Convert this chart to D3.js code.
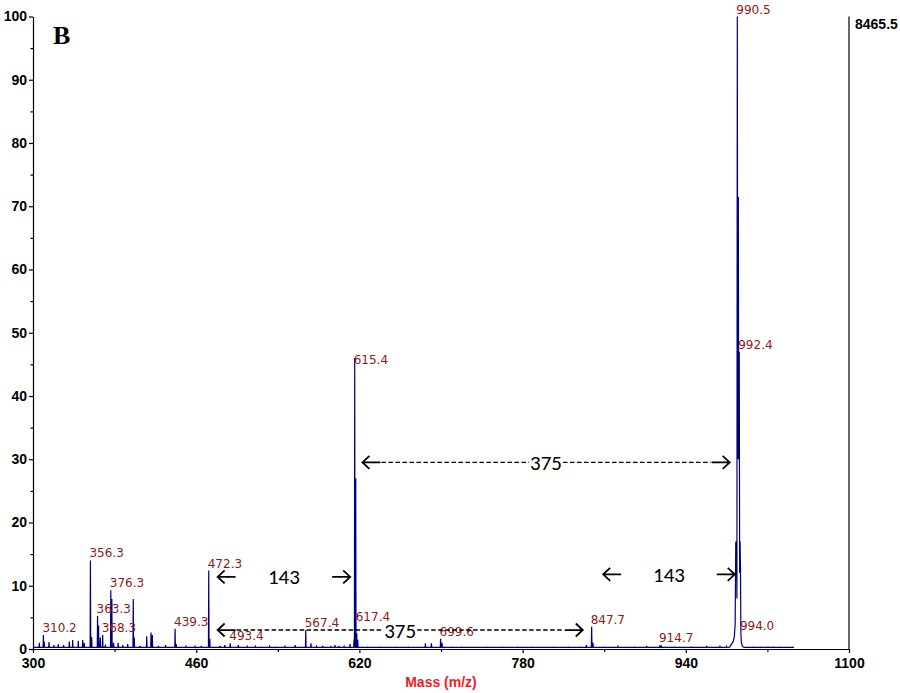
<!DOCTYPE html>
<html>
<head>
<meta charset="utf-8">
<script src="https://cdn.jsdelivr.net/npm/d3@7"></script>
<style>
  body { margin: 0; background: #fff; }
</style>
</head>
<body>
<svg id="chart" width="900" height="693"></svg>
<script>
// isolated peaks of the spectrum (m/z, relative intensity %)
var peakMz = [306.2, 310.2, 311.0, 315.7, 320.5, 324.8, 330.0, 335.6, 338.9, 344.4, 348.7, 350.2,
  356.3, 357.5, 363.3, 364.3, 366.0, 368.3, 371.0, 376.3, 377.3, 379.0, 383.5, 388.0, 392.8,
  398.3, 399.3, 405.0, 411.5, 415.7, 417.0, 423.0, 430.0, 439.3, 440.4, 450.0, 458.8, 465.0,
  472.3, 473.3, 483.3, 488.0, 493.4, 501.3, 510.0, 518.0, 524.2, 532.0, 539.0, 547.0, 557.0,
  567.4, 572.5, 578.0, 584.0, 592.0, 596.0, 600.0, 605.0, 610.8, 614.7, 615.4, 616.4, 617.4,
  618.4, 628.0, 640.0, 655.0, 668.0, 684.7, 690.6, 699.6, 701.0, 710.0, 720.0, 745.0, 760.0,
  775.0, 790.0, 810.0, 825.0, 836.0, 842.5, 847.7, 849.0, 860.0, 873.5, 890.0, 901.6, 914.7,
  916.0, 929.4, 945.0, 960.5, 973.5, 980.0, 1000.0, 1006.0, 1013.0, 1020.6, 1026.0, 1032.0, 1045.0];
var peakIntensity = [1.0, 2.2, 1.2, 1.1, 0.6, 0.8, 0.6, 1.2, 1.4, 1.3, 1.4, 1.0,
  14.0, 1.9, 5.2, 3.7, 1.8, 2.2, 0.7, 9.3, 7.9, 1.0, 1.0, 0.6, 0.8,
  7.9, 1.8, 0.5, 2.0, 2.6, 2.2, 0.5, 0.6, 3.2, 0.8, 0.4, 0.4, 0.5,
  12.4, 1.6, 0.5, 0.6, 0.9, 0.6, 0.4, 0.4, 0.3, 0.4, 0.3, 0.4, 0.6,
  3.0, 0.9, 0.4, 0.5, 0.5, 0.6, 0.5, 0.4, 0.8, 1.5, 46.0, 27.0, 2.5,
  1.5, 0.3, 0.3, 0.3, 0.3, 0.9, 0.9, 1.6, 1.0, 0.3, 0.3, 0.3, 0.3,
  0.3, 0.3, 0.3, 0.3, 0.3, 0.6, 3.5, 1.0, 0.3, 0.4, 0.3, 0.5, 0.6,
  0.4, 0.3, 0.3, 0.5, 0.4, 0.4, 0.3, 0.3, 0.3, 0.3, 0.3, 0.3, 0.3];

// molecular ion cluster, drawn as a profile
var clusterMz = [983.0, 985.0, 986.5, 987.6, 988.4, 989.0, 989.4, 989.8, 990.1, 990.5, 990.9,
  991.5, 991.9, 992.4, 992.8, 993.2, 993.6, 994.0, 994.5, 995.5, 997.0];
var clusterIntensity = [0.3, 0.8, 1.2, 2.0, 4.0, 17.0, 13.0, 17.0, 8.0, 100.0, 30.0,
  71.5, 30.0, 47.0, 12.0, 17.0, 13.0, 2.5, 1.0, 0.4, 0.25];

var labelMz = [310.2, 356.3, 363.3, 368.3, 376.3, 439.3, 472.3, 493.4, 567.4, 615.4, 617.4,
  699.6, 847.7, 914.7, 990.5, 992.4, 994.0];
var labelText = ["310.2", "356.3", "363.3", "368.3", "376.3", "439.3", "472.3", "493.4", "567.4",
  "615.4", "617.4", "699.6", "847.7", "914.7", "990.5", "992.4", "994.0"];

var xTicks = [300, 460, 620, 780, 940, 1100];
var xMinorTicks = [380, 540, 700, 860, 1020];
var yTicks = [0, 10, 20, 30, 40, 50, 60, 70, 80, 90, 100];
var yMinorTicks = [5, 15, 25, 35, 45, 55, 65, 75, 85, 95];

// mass differences drawn as arrows
var spanFrom = [623, 481, 481, 859];
var spanTo = [983, 611, 839, 988];
var spanLevel = [29.5, 11.4, 3.0, 11.8];
var spanText = ["375", "143", "375", "143"];
var spanDashed = [true, false, true, false];

var BASE_LEVEL = 0.25; //noise floor of the trace
var BASE_END = 1046;
var labelNudge = { "615.4": 9, "617.4": -9 }; //pixels, where the original label sits off the peak top

var svg = d3.select("#chart");
svg.append("rect").attr("width", 900).attr("height", 693).attr("fill", "#fff");

var x = d3.scaleLinear().domain([300, 1100]).range([33, 849]);
var y = d3.scaleLinear().domain([0, 100]).range([649, 16.5]);

// axes
svg.append("g").attr("transform", "translate(33,0)")
  .call(d3.axisLeft(y).tickValues(yTicks).tickSize(4).tickSizeOuter(0).tickPadding(2));
svg.append("g").attr("transform", "translate(33,0)")
  .call(d3.axisLeft(y).tickValues(yMinorTicks).tickSize(2.5).tickFormat(""))
  .select(".domain").remove();

svg.append("g").attr("transform", "translate(0,649)")
  .call(d3.axisBottom(x).tickValues(xTicks).tickFormat(d3.format("d"))
    .tickSize(4).tickSizeOuter(0).tickPadding(5));
svg.append("g").attr("transform", "translate(0,649)")
  .call(d3.axisBottom(x).tickValues(xMinorTicks).tickSize(3).tickFormat(""))
  .select(".domain").remove();

svg.selectAll(".tick text")
  .attr("font-family", "Arial, 'Liberation Sans', sans-serif")
  .attr("font-size", 14)
  .attr("font-weight", "bold")
  .attr("fill", "#000");
svg.selectAll(".domain, .tick line").attr("stroke", "#000").attr("stroke-width", 1.2);

// right hand frame line
svg.append("line")
  .attr("x1", x(1100)).attr("x2", x(1100))
  .attr("y1", y(100)).attr("y2", y(0))
  .attr("stroke", "#000").attr("stroke-width", 1.2);

svg.append("text")
  .attr("x", 855).attr("y", 29)
  .attr("font-family", "Arial, 'Liberation Sans', sans-serif")
  .attr("font-size", 14).attr("font-weight", "bold")
  .text("8465.5");

svg.append("text")
  .attr("x", 441).attr("y", 687)
  .attr("text-anchor", "middle")
  .attr("font-family", "Arial, 'Liberation Sans', sans-serif")
  .attr("font-size", 14).attr("font-weight", "bold")
  .attr("fill", "#f21b1b")
  .text("Mass (m/z)");

svg.append("text")
  .attr("x", 53).attr("y", 44)
  .attr("font-family", "'Times New Roman', 'Liberation Serif', serif")
  .attr("font-size", 26).attr("font-weight", "bold")
  .text("B");

// build the trace: sticks for the isolated peaks, profile for the cluster
var points = [[300, BASE_LEVEL], [BASE_END, BASE_LEVEL]];
peakMz.forEach(function(mz, i) {
  points.push([mz - 0.3, BASE_LEVEL], [mz, peakIntensity[i]], [mz + 0.3, BASE_LEVEL]);
});
clusterMz.forEach(function(mz, i) { points.push([mz, clusterIntensity[i]]); });
points.sort(function(a, b) { return a[0] - b[0]; });

svg.append("path")
  .datum(points)
  .attr("fill", "none")
  .attr("stroke", "#00007a")
  .attr("stroke-width", 1.2)
  .attr("d", d3.line().x(function(d) { return x(d[0]); }).y(function(d) { return y(d[1]); }));

function heightAt(mz) {
  var i = peakMz.indexOf(mz);
  if (i >= 0) return peakIntensity[i];
  var best = 0, dist = 1e9;
  clusterMz.forEach(function(m, j) {
    if (Math.abs(m - mz) < dist) { dist = Math.abs(m - mz); best = clusterIntensity[j]; }
  });
  return best;
}

svg.selectAll(".peakLabel")
  .data(labelMz)
  .enter()
  .append("text")
  .attr("class", "peakLabel")
  .attr("x", function(d) { return x(d) - 1; })
  .attr("y", function(d) { return y(heightAt(d)) - 3 + (labelNudge[d] || 0); })
  .attr("font-family", "Tahoma, 'DejaVu Sans', sans-serif")
  .attr("font-size", 12)
  .attr("fill", "#8b1a1a")
  .text(function(d, i) { return labelText[i]; });

// arrows with mass differences
var ARROW_LEN = 18;
function arrow(g, tipX, yPos, dir) {
  //dir -1 points left, +1 points right
  var tail = tipX - dir * ARROW_LEN;
  g.append("path")
    .attr("d", "M" + tail + "," + yPos + "H" + tipX +
      "M" + (tipX - dir * 7) + "," + (yPos - 6.5) + "L" + tipX + "," + yPos + "L" + (tipX - dir * 7) + "," + (yPos + 6.5))
    .attr("fill", "none").attr("stroke", "#000").attr("stroke-width", 1.8);
}

var spans = svg.append("g");
spanText.forEach(function(t, i) {
  var x1 = x(spanFrom[i]), x2 = x(spanTo[i]), yPos = y(spanLevel[i]);
  var mid = (x1 + x2) / 2;
  arrow(spans, x1, yPos, -1);
  arrow(spans, x2, yPos, 1);
  var label = spans.append("text")
    .attr("x", mid).attr("y", yPos + 7.5)
    .attr("text-anchor", "middle")
    .attr("font-family", "Calibri, Carlito, Lato, sans-serif")
    .attr("font-size", 21)
    .text(t);
  if (spanDashed[i]) {
    var half = label.node().getComputedTextLength() / 2 + 1;
    [[x1 + ARROW_LEN + 1, mid - half], [mid + half, x2 - ARROW_LEN - 1]].forEach(function(seg) {
      spans.append("line")
        .attr("x1", seg[0]).attr("x2", seg[1])
        .attr("y1", yPos).attr("y2", yPos)
        .attr("stroke", "#000").attr("stroke-width", 1.4)
        .attr("stroke-dasharray", "4.5,2.5");
    });
  }
});
</script>
</body>
</html>
